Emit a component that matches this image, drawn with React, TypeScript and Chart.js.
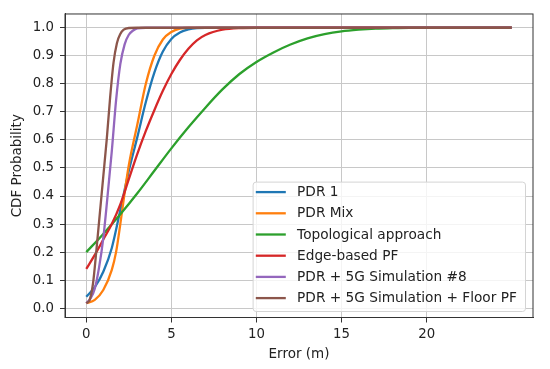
import React, { useEffect, useRef } from "react";
import { Chart, registerables } from "chart.js";

Chart.register(...registerables);

// ---- data ----
const seriesLabels = [
  "PDR 1",
  "PDR Mix",
  "Topological approach",
  "Edge-based PF",
  "PDR + 5G Simulation #8",
  "PDR + 5G Simulation + Floor PF",
];
const seriesColors = ["#1f77b4", "#ff7f0e", "#2ca02c", "#d62728", "#9467bd", "#8c564b"];

const pdr1X = [0, 0.5, 1.0, 1.5, 2.0, 2.5, 3.0, 3.5, 4.0, 4.5, 5.0, 5.5, 6.0, 6.5, 7, 25];
const pdr1Y = [0.041, 0.075, 0.13, 0.215, 0.35, 0.49, 0.61, 0.735, 0.84, 0.915, 0.96, 0.983, 0.994, 0.999, 1, 1];

const pdrMixX = [0, 0.5, 1.0, 1.5, 1.75, 2.0, 2.25, 2.5, 3.0, 3.5, 4.0, 4.5, 5.0, 5.5, 6, 25];
const pdrMixY = [0.018, 0.03, 0.065, 0.137, 0.2, 0.3, 0.41, 0.51, 0.655, 0.8, 0.9, 0.958, 0.985, 0.997, 1, 1];

const topoX = [0, 1, 2, 3, 4, 5, 6, 7, 8, 9, 10, 11, 12, 13, 14, 15, 16, 17, 18, 19, 25];
const topoY = [0.2, 0.265, 0.335, 0.41, 0.49, 0.57, 0.645, 0.715, 0.78, 0.835, 0.878, 0.912, 0.94, 0.962, 0.977, 0.987, 0.993, 0.997, 0.999, 1, 1];

const edgeX = [0, 0.5, 1.0, 1.5, 2.0, 2.5, 3.0, 3.5, 4.0, 4.5, 5.0, 5.5, 6.0, 6.5, 7.0, 8.0, 9.0, 10, 25];
const edgeY = [0.14, 0.19, 0.245, 0.3, 0.37, 0.46, 0.55, 0.632, 0.706, 0.775, 0.835, 0.885, 0.925, 0.955, 0.974, 0.993, 0.999, 1, 1];

const sim8X = [0, 0.25, 0.5, 0.75, 1.0, 1.25, 1.5, 1.75, 2.0, 2.25, 2.5, 2.75, 3.0, 3.5, 25];
const sim8Y = [0.018, 0.035, 0.07, 0.145, 0.25, 0.4, 0.56, 0.74, 0.87, 0.94, 0.975, 0.99, 0.998, 1, 1];

const floorX = [0, 0.2, 0.4, 0.6, 0.8, 1.0, 1.2, 1.4, 1.6, 1.8, 2.0, 2.2, 2.5, 3, 25];
const floorY = [0.018, 0.03, 0.09, 0.21, 0.34, 0.47, 0.6, 0.75, 0.875, 0.945, 0.978, 0.993, 0.999, 1, 1];

const seriesX = [pdr1X, pdrMixX, topoX, edgeX, sim8X, floorX];
const seriesY = [pdr1Y, pdrMixY, topoY, edgeY, sim8Y, floorY];

const xTicks = [0, 5, 10, 15, 20];
const yTicks = [0, 0.1, 0.2, 0.3, 0.4, 0.5, 0.6, 0.7, 0.8, 0.9, 1.0];

const FONT = "'DejaVu Sans', sans-serif";
const TEXT = "#222222";

const framePlugin = {
  id: "frame",
  afterDraw(chart: any) {
    const { ctx, chartArea: a } = chart;
    ctx.save();
    ctx.strokeStyle = "#333333";
    ctx.lineWidth = 1;
    ctx.strokeRect(a.left, a.top, a.right - a.left, a.bottom - a.top);
    ctx.restore();
  },
};

const legendPlugin = {
  id: "mplLegend",
  afterDraw(chart: any) {
    const { ctx, chartArea: a } = chart;
    const right = a.right - 7.5;
    const bottom = a.bottom - 6;
    const w = 272.4;
    const h = 129.4;
    const left = right - w;
    const top = bottom - h;
    ctx.save();
    ctx.beginPath();
    const r = 3;
    ctx.moveTo(left + r, top);
    ctx.lineTo(right - r, top);
    ctx.quadraticCurveTo(right, top, right, top + r);
    ctx.lineTo(right, bottom - r);
    ctx.quadraticCurveTo(right, bottom, right - r, bottom);
    ctx.lineTo(left + r, bottom);
    ctx.quadraticCurveTo(left, bottom, left, bottom - r);
    ctx.lineTo(left, top + r);
    ctx.quadraticCurveTo(left, top, left + r, top);
    ctx.closePath();
    ctx.fillStyle = "rgba(255,255,255,0.8)";
    ctx.fill();
    ctx.strokeStyle = "#d4d4d4";
    ctx.lineWidth = 1;
    ctx.stroke();
    ctx.font = `13.7px ${FONT}`;
    ctx.textBaseline = "middle";
    ctx.textAlign = "left";
    seriesLabels.forEach((lab, i) => {
      const cy = top + 10 + i * 21.2;
      ctx.beginPath();
      ctx.strokeStyle = seriesColors[i];
      ctx.lineWidth = 2.3;
      ctx.moveTo(left + 2.7, cy);
      ctx.lineTo(left + 32.7, cy);
      ctx.stroke();
      ctx.fillStyle = TEXT;
      ctx.fillText(lab, left + 44, cy + 0.5);
    });
    ctx.restore();
  },
};

export default function App() {
  const ref = useRef<HTMLCanvasElement | null>(null);

  useEffect(() => {
    if (!ref.current) return;
    const datasets = seriesLabels.map((label, i) => ({
      label,
      data: seriesX[i].map((x, j) => ({ x, y: seriesY[i][j] })),
      borderColor: seriesColors[i],
      backgroundColor: seriesColors[i],
      borderWidth: 2.3,
      pointRadius: 0,
      fill: false,
      cubicInterpolationMode: "monotone" as const,
      order: seriesLabels.length - i,
    }));
    const gridOpts = {
      color: "#c8c8c8",
      lineWidth: 1,
      drawTicks: true,
      tickLength: 5,
      tickColor: "#333333",
    };
    const chart = new Chart(ref.current, {
      type: "line",
      data: { datasets },
      options: {
        responsive: false,
        animation: false,
        layout: { padding: { top: 13.5, right: 17, left: 0, bottom: 0 } },
        scales: {
          x: {
            type: "linear",
            min: -1.25,
            max: 26.25,
            afterBuildTicks: (s: any) => {
              s.ticks = xTicks.map((v) => ({ value: v }));
            },
            afterFit: (s: any) => {
              s.height = 51.5;
            },
            grid: gridOpts,
            border: { display: true, color: "#333333", width: 1 },
            ticks: {
              color: TEXT,
              font: { family: FONT, size: 13.3 },
              padding: 4.5,
              maxRotation: 0,
              autoSkip: false,
              callback: (v: any) => String(v),
            },
            title: {
              display: true,
              text: "Error (m)",
              color: TEXT,
              font: { family: FONT, size: 13.5 },
              padding: { top: 0, bottom: 6.5 },
            },
          },
          y: {
            type: "linear",
            min: -0.033,
            max: 1.049,
            afterBuildTicks: (s: any) => {
              s.ticks = yTicks.map((v) => ({ value: v }));
            },
            afterFit: (s: any) => {
              s.width = 65;
            },
            grid: gridOpts,
            border: { display: true, color: "#333333", width: 1 },
            ticks: {
              color: TEXT,
              font: { family: FONT, size: 13.3 },
              padding: 6,
              autoSkip: false,
              callback: (v: any) => Number(v).toFixed(1),
            },
            title: {
              display: true,
              text: "CDF Probability",
              color: TEXT,
              font: { family: FONT, size: 13.5 },
              padding: { top: 9.5, bottom: 0 },
            },
          },
        },
        plugins: {
          legend: { display: false },
          tooltip: { enabled: false },
        },
      },
      plugins: [framePlugin, legendPlugin],
    });
    return () => chart.destroy();
  }, []);

  return (
    <div style={{ position: "fixed", left: 0, top: 0, width: 550, height: 369, background: "#fff" }}>
      <canvas ref={ref} width={550} height={369} style={{ display: "block", width: 550, height: 369 }} />
    </div>
  );
}
